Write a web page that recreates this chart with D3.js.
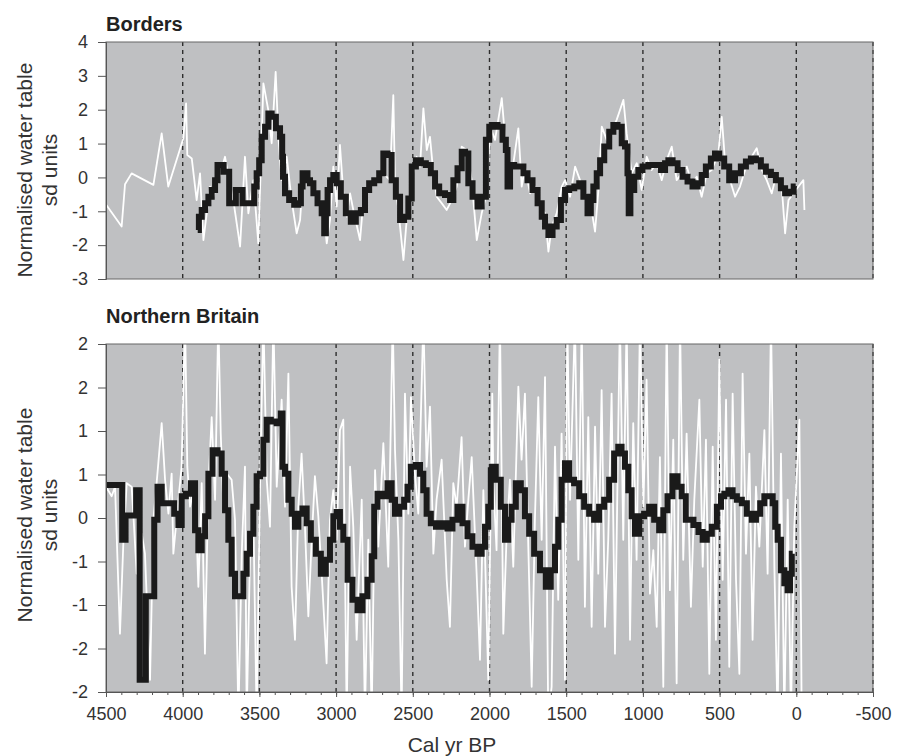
<!DOCTYPE html>
<html>
<head>
<meta charset="utf-8">
<script src="https://cdn.jsdelivr.net/npm/d3@7"></script>
<style>
  body { margin: 0; background: #fff; }
  svg text { font-family: "Liberation Sans", Arial, sans-serif; }
</style>
</head>
<body>
<svg id="chart" width="899" height="756"></svg>
<script>
// x axis (cal yr BP)
const xTicks = [4500, 4000, 3500, 3000, 2500, 2000, 1500, 1000, 500, 0, -500];
const gridYears = [4000, 3500, 3000, 2500, 2000, 1500, 1000, 500, 0, -500];

// y ticks, labels as printed on the original
const bordersTicks = [4, 3, 2, 1, 0, -1, -2, -3];
const bordersTickLabels = ["4", "3", "2", "1", "0", "-1", "-2", "-3"];
const britainTicks = [2, 1.5, 1, 0.5, 0, -0.5, -1, -1.5, -2];
const britainTickLabels = ["2", "2", "1", "1", "0", "-1", "-1", "-2", "-2"];

// Borders: raw water table [yr BP, sd]
const bordersRaw = [
  [4500,-0.8],[4398,-1.45],[4376,-0.2],[4333,0.12],[4191,-0.22],[4137,1.3],[4094,-0.27],
  [3996,1.15],[3978,2.19],[3970,0.66],[3941,0.56],[3909,-0.67],[3887,0.12],[3865,-1.85],
  [3822,-0.27],[3800,-0.57],[3768,-0.08],[3724,0.61],[3702,0.02],[3670,-0.67],[3626,-2.04],
  [3594,0.61],[3572,-1.06],[3539,-0.08],[3507,-1.95],[3474,2.78],[3442,1.99],[3420,1.01],
  [3394,3.12],[3376,1.2],[3355,-0.08],[3322,0.61],[3290,-0.67],[3257,-1.65],[3235,-1.26],
  [3213,0.17],[3181,-0.17],[3148,-0.27],[3116,-0.57],[3083,-0.96],[3061,-1.95],[3040,-1.26],
  [3018,0.32],[2996,-0.86],[2975,0.96],[2953,-0.47],[2931,-1.16],[2909,-0.47],[2888,-0.96],
  [2844,-1.85],[2822,-0.67],[2790,-0.27],[2757,-0.08],[2725,0.02],[2692,0.12],[2649,-0.08],
  [2627,2.43],[2616,-0.17],[2594,-0.96],[2561,-2.44],[2540,-1.26],[2507,-0.08],[2475,0.61],
  [2453,0.32],[2431,2.04],[2409,0.81],[2388,1.2],[2366,0.12],[2344,-0.57],[2312,-0.76],
  [2279,-0.96],[2246,-0.67],[2214,-0.27],[2181,0.91],[2149,0.81],[2116,-0.08],[2083,-1.85],
  [2051,-1.06],[2018,-0.47],[1996,1.5],[1964,1.11],[1920,2.34],[1899,1.2],[1866,-0.08],
  [1844,0.42],[1812,1.45],[1790,-0.27],[1768,0.32],[1736,-0.47],[1703,-0.27],[1670,-0.86],
  [1638,-1.06],[1616,-2.19],[1594,-1.45],[1562,-1.06],[1529,-0.27],[1507,-0.08],[1475,-0.57],
  [1442,0.32],[1410,-0.08],[1377,-0.47],[1345,-0.67],[1312,-1.6],[1290,-0.37],[1268,1.5],
  [1236,1.11],[1203,1.4],[1171,1.7],[1127,2.29],[1106,1.3],[1073,0.12],[1040,0.42],
  [1008,-0.37],[975,0.61],[943,0.22],[910,0.42],[877,-0.08],[845,0.51],[812,0.91],
  [780,-0.08],[747,0.12],[714,0.32],[682,-0.17],[649,0.02],[617,-0.57],[584,0.12],
  [551,0.22],[508,0.71],[486,1.79],[464,0.42],[432,-0.08],[399,-0.57],[367,-0.27],
  [334,0.22],[291,0.61],[258,0.86],[225,0.22],[193,-0.08],[160,-0.47],[128,0.12],
  [95,-0.27],[73,-1.65],[51,-0.67],[19,-0.47],[-14,-0.27],[-46,-0.08],[-53,-0.96]
];

// Borders: running mean
const bordersMean = [
  [3902,-1.55],[3887,-1.16],[3865,-0.96],[3843,-0.76],[3822,-0.57],[3800,-0.37],[3778,-0.08],
  [3768,0.37],[3735,0.37],[3731,0.17],[3702,0.17],[3692,-0.76],[3659,-0.76],[3648,-0.37],
  [3615,-0.37],[3605,-0.76],[3539,-0.76],[3529,-0.27],[3507,0.12],[3496,0.51],[3474,1.2],
  [3452,1.5],[3431,1.89],[3409,1.79],[3376,1.45],[3355,1.2],[3348,0.61],[3344,0.02],
  [3322,-0.47],[3290,-0.67],[3257,-0.81],[3235,-0.76],[3224,-0.27],[3213,0.12],[3192,0.12],
  [3181,-0.08],[3159,-0.17],[3137,-0.47],[3105,-0.76],[3083,-1.06],[3072,-1.65],[3061,-1.06],
  [3050,-0.37],[3029,-0.08],[3007,0.07],[2985,-0.17],[2953,-0.57],[2920,-1.06],[2888,-1.31],
  [2855,-1.06],[2822,-0.96],[2801,-0.37],[2768,-0.17],[2735,-0.08],[2703,0.12],[2681,0.71],
  [2649,0.66],[2627,-0.08],[2594,-0.57],[2572,-1.26],[2540,-1.16],[2518,-0.62],[2496,0.32],
  [2464,0.51],[2431,0.42],[2399,0.37],[2366,0.12],[2344,-0.27],[2312,-0.47],[2268,-0.52],
  [2246,-0.67],[2225,-0.08],[2192,0.27],[2170,0.76],[2149,0.71],[2127,-0.17],[2094,-0.57],
  [2062,-0.86],[2040,-0.57],[2007,1.11],[1996,1.5],[1964,1.55],[1931,1.5],[1899,1.11],
  [1888,0.81],[1877,-0.27],[1855,0.37],[1823,0.32],[1790,0.32],[1768,0.12],[1736,-0.08],
  [1703,-0.37],[1670,-0.76],[1649,-1.16],[1627,-1.45],[1605,-1.7],[1573,-1.45],[1551,-1.26],
  [1518,-0.67],[1497,-0.37],[1464,-0.32],[1431,-0.27],[1399,-0.17],[1377,-0.57],[1345,-1.06],
  [1334,-0.67],[1312,-0.27],[1290,0.12],[1268,0.51],[1236,0.91],[1203,1.35],[1182,1.55],
  [1149,1.5],[1127,1.01],[1106,0.91],[1095,0.12],[1090,-1.06],[1073,-0.37],[1040,0.02],
  [1019,0.22],[986,0.32],[943,0.37],[899,0.37],[866,0.22],[845,0.42],[823,0.51],[790,0.42],
  [758,0.22],[725,0.02],[693,-0.12],[660,-0.27],[627,-0.17],[606,0.07],[573,0.32],[541,0.56],
  [519,0.71],[486,0.56],[454,0.32],[421,-0.08],[378,0.12],[345,0.32],[312,0.47],[280,0.56],
  [247,0.51],[215,0.32],[182,0.17],[149,0.07],[117,-0.08],[84,-0.32],[62,-0.47],[30,-0.42],[4,-0.27]
];

// Northern Britain: raw composite (values beyond +-2 run off the panel)
const britainRaw = [
  [4500,0.36],[4463,0.25],[4441,0.36],[4409,-1.33],[4387,-0.29],[4365,0.4],[4333,0.36],
  [4322,0.05],[4300,-0.64],[4267,-0.18],[4246,-0.41],[4213,-1.86],[4191,-0.02],[4170,0.4],
  [4137,1.09],[4115,0.44],[4093,0.05],[4072,0.51],[4061,-0.41],[4028,0.21],[4007,0.59],
  [3985,2.3],[3970,0.59],[3952,0.13],[3920,0.4],[3898,-0.79],[3876,0.4],[3855,-1.56],
  [3833,0.36],[3811,1.16],[3789,0.21],[3768,2.3],[3752,0.97],[3735,0.13],[3713,0.51],
  [3681,0.44],[3659,-0.02],[3637,-2.3],[3615,-0.41],[3594,0.59],[3583,-2.3],[3561,-0.41],
  [3539,-0.02],[3518,-2.3],[3496,0.36],[3474,2.3],[3452,0.44],[3431,-0.1],[3409,2.3],
  [3387,0.36],[3355,1.36],[3333,0.13],[3311,1.66],[3290,-0.79],[3268,-1.4],[3246,0.13],
  [3225,0.74],[3203,-0.1],[3181,-1.13],[3159,-0.25],[3138,0.48],[3116,0.02],[3094,-0.64],
  [3062,-1.67],[3040,-0.02],[3018,0.32],[2996,-0.25],[2975,1.01],[2953,1.13],[2931,-2.3],
  [2909,0.59],[2888,-0.1],[2866,-1.4],[2833,0.21],[2812,-2.3],[2790,-0.25],[2768,-2.3],
  [2746,0.55],[2725,-0.33],[2692,0.86],[2660,-0.56],[2631,2.3],[2616,0.78],[2594,-0.25],
  [2573,-2.3],[2551,1.43],[2529,0.05],[2512,1.39],[2486,0.51],[2464,0.05],[2431,2.3],
  [2410,0.59],[2388,1.28],[2366,-0.41],[2345,0.21],[2312,0.67],[2279,-0.71],[2258,-1.25],
  [2236,0.4],[2214,0.13],[2182,0.93],[2160,-0.33],[2138,0.21],[2116,0.7],[2084,-0.64],
  [2062,-1.63],[2040,0.32],[2008,-1.86],[1982,1.43],[1975,0.4],[1954,-0.37],[1932,2.3],
  [1910,-1.33],[1888,-0.18],[1867,0.44],[1845,-0.56],[1812,1.51],[1791,0.67],[1769,1.43],
  [1747,-0.33],[1725,-1.94],[1704,-0.02],[1682,1.39],[1660,-0.25],[1638,1.62],[1617,-2.3],
  [1595,-1.94],[1573,0.82],[1552,-0.94],[1530,0.97],[1508,-1.86],[1493,2.3],[1475,0.21],
  [1443,2.3],[1421,-0.48],[1399,2.3],[1378,-1.02],[1356,1.16],[1334,-1.25],[1312,1.05],
  [1291,-0.64],[1269,1.47],[1247,-1.25],[1226,-0.25],[1204,1.43],[1182,-1.56],[1150,2.3],
  [1128,-0.25],[1106,2.3],[1084,-1.4],[1063,1.09],[1041,-0.48],[1019,2.3],[997,0.13],
  [976,1.59],[954,-0.87],[932,-0.37],[910,-1.25],[889,0.7],[867,-1.94],[845,2.3],
  [824,-0.83],[802,0.9],[780,-1.9],[758,2.3],[737,-0.48],[715,0.97],[687,-1.02],[665,0.21],
  [632,1.36],[610,-0.56],[589,0.9],[567,-1.79],[545,0.82],[524,-1.4],[502,1.82],[480,-0.71],
  [458,1.36],[437,-1.71],[415,1.43],[393,-0.71],[371,-1.79],[350,1.66],[328,-0.41],
  [306,0.74],[285,-1.4],[263,0.36],[241,-0.33],[208,1.01],[187,-0.64],[165,2.3],[143,-0.56],
  [122,-2.3],[100,0.74],[78,-2.3],[56,0.21],[35,-2.3],[13,-0.1],[-20,1.13],[-31,-1.21],[-35,-2.3]
];

// Northern Britain: running mean
const britainMean = [
  [4500,0.38],[4398,0.38],[4391,-0.25],[4376,-0.25],[4369,0.03],[4311,0.03],[4296,0.32],
  [4283,0.32],[4278,-1.86],[4246,-1.86],[4235,-0.9],[4191,-0.9],[4180,-0.02],[4148,0.36],
  [4126,0.17],[4072,0.17],[4039,0.05],[4017,-0.08],[3996,0.25],[3963,0.28],[3930,0.4],
  [3909,-0.14],[3887,-0.37],[3865,-0.21],[3843,0.02],[3822,0.51],[3789,0.78],[3757,0.74],
  [3735,0.51],[3713,0.09],[3692,-0.25],[3670,-0.64],[3648,-0.9],[3615,-0.9],[3594,-0.64],
  [3572,-0.41],[3550,-0.18],[3529,0.13],[3507,0.48],[3485,0.51],[3463,0.9],[3442,1.13],
  [3409,1.11],[3366,1.09],[3355,1.2],[3344,0.59],[3322,0.51],[3300,0.21],[3279,0.05],
  [3257,-0.1],[3235,0.05],[3203,0.11],[3181,-0.06],[3148,-0.25],[3116,-0.41],[3083,-0.64],
  [3051,-0.48],[3029,-0.25],[3007,0.02],[2986,0.07],[2964,-0.1],[2942,-0.25],[2909,-0.71],
  [2877,-0.94],[2844,-1.06],[2812,-0.9],[2779,-0.71],[2757,-0.44],[2746,0.13],[2714,0.28],
  [2681,0.25],[2649,0.4],[2627,0.21],[2605,0.05],[2573,0.13],[2540,0.21],[2529,0.36],
  [2497,0.59],[2464,0.61],[2442,0.51],[2421,0.32],[2399,0.05],[2366,-0.06],[2334,-0.1],
  [2290,-0.06],[2258,-0.12],[2225,-0.02],[2192,0.13],[2160,-0.06],[2127,-0.21],[2095,-0.33],
  [2062,-0.41],[2040,-0.33],[2019,-0.1],[1997,0.13],[1986,0.55],[1975,0.59],[1943,0.44],
  [1910,0.13],[1888,-0.25],[1867,-0.02],[1845,0.13],[1812,0.4],[1780,0.32],[1758,0.02],
  [1725,-0.18],[1693,-0.41],[1649,-0.6],[1617,-0.79],[1584,-0.6],[1562,-0.33],[1541,-0.02],
  [1519,0.44],[1497,0.63],[1465,0.44],[1432,0.4],[1399,0.25],[1367,0.13],[1334,0.05],
  [1302,-0.02],[1269,0.13],[1236,0.21],[1204,0.44],[1171,0.74],[1150,0.82],[1128,0.74],
  [1106,0.59],[1084,0.32],[1063,0.02],[1041,-0.18],[1008,0.02],[976,0.05],[943,0.13],
  [910,-0.02],[878,-0.14],[856,0.09],[824,0.25],[791,0.48],[758,0.36],[737,0.25],[704,-0.02],
  [687,-0.02],[654,-0.08],[621,-0.16],[600,-0.25],[567,-0.18],[534,-0.1],[502,0.13],
  [480,0.25],[458,0.28],[426,0.32],[404,0.25],[371,0.21],[339,0.17],[306,0.05],[274,-0.02],
  [252,0.05],[219,0.17],[198,0.25],[165,0.25],[143,0.17],[132,-0.1],[111,-0.25],[89,-0.6],
  [67,-0.75],[46,-0.83],[35,-0.64],[24,-0.41]
];

const svg = d3.select("#chart");
const left = 106, right = 873;
const panelFill = "#bfc0c2";
const tickColor = "#333";

const x = d3.scaleLinear().domain([4500, -500]).range([left, right]);

function drawPanel(cfg) {
  const y = d3.scaleLinear().domain(cfg.domain).range([cfg.bottom, cfg.top]);
  const g = svg.append("g");

  g.append("clipPath").attr("id", cfg.id + "-clip")
    .append("rect")
    .attr("x", left).attr("y", cfg.top)
    .attr("width", right - left).attr("height", cfg.bottom - cfg.top);

  g.append("rect")
    .attr("x", left).attr("y", cfg.top)
    .attr("width", right - left).attr("height", cfg.bottom - cfg.top)
    .attr("fill", panelFill);

  // dashed 500-yr guides
  g.selectAll(".grid")
    .data(gridYears)
    .enter().append("line")
    .attr("x1", d => x(d)).attr("x2", d => x(d))
    .attr("y1", cfg.top).attr("y2", cfg.bottom)
    .attr("stroke", "#2e2e2e")
    .attr("stroke-width", 1.4)
    .attr("stroke-dasharray", "4,4");

  const rawLine = d3.line().x(d => x(d[0])).y(d => y(d[1]));
  const meanLine = d3.line().x(d => x(d[0])).y(d => y(d[1])).curve(d3.curveStep);
  const plot = g.append("g").attr("clip-path", `url(#${cfg.id}-clip)`);

  plot.append("path")
    .datum(cfg.raw)
    .attr("d", rawLine)
    .attr("fill", "none")
    .attr("stroke", "#ffffff")
    .attr("stroke-width", 1.8)
    .attr("stroke-linejoin", "round");

  plot.append("path")
    .datum(cfg.mean)
    .attr("d", meanLine)
    .attr("fill", "none")
    .attr("stroke", "#1a1a1a")
    .attr("stroke-width", 6)
    .attr("stroke-linejoin", "miter");

  // frame
  g.append("rect")
    .attr("x", left).attr("y", cfg.top)
    .attr("width", right - left).attr("height", cfg.bottom - cfg.top)
    .attr("fill", "none")
    .attr("stroke", "#666")
    .attr("stroke-width", 1);

  const yAxis = g.append("g")
    .attr("transform", `translate(${left},0)`)
    .call(d3.axisLeft(y)
      .tickValues(cfg.ticks)
      .tickFormat((d, i) => cfg.tickLabels[i])
      .tickSize(8)
      .tickPadding(10));
  yAxis.select(".domain").attr("stroke", "#555");
  yAxis.selectAll(".tick line").attr("stroke", "#555");
  yAxis.selectAll(".tick text")
    .attr("font-size", 18)
    .attr("fill", tickColor)
    .style("font-family", "Liberation Sans, Arial, sans-serif");

  g.append("text")
    .attr("x", left).attr("y", cfg.titleY)
    .attr("font-size", 20)
    .attr("font-weight", "bold")
    .attr("fill", "#222")
    .text(cfg.title);

  const label = g.append("text")
    .attr("transform", `translate(0,${cfg.labelY}) rotate(-90)`)
    .attr("text-anchor", "middle")
    .attr("font-size", 21)
    .attr("fill", tickColor);
  label.append("tspan").attr("x", 0).attr("y", 32).text("Normalised water table");
  label.append("tspan").attr("x", 0).attr("y", 57).text("sd units");

  return { g, y };
}

drawPanel({
  id: "borders", top: 42, bottom: 279, domain: [-3, 4],
  ticks: bordersTicks, tickLabels: bordersTickLabels,
  raw: bordersRaw, mean: bordersMean,
  title: "Borders", titleY: 31, labelY: 170
});

const lower = drawPanel({
  id: "britain", top: 344, bottom: 692, domain: [-2, 2],
  ticks: britainTicks, tickLabels: britainTickLabels,
  raw: britainRaw, mean: britainMean,
  title: "Northern Britain", titleY: 323, labelY: 515
});

// minor ticks every 100 yr
const minorTicks = d3.range(4500, -501, -100);
const minorAxis = lower.g.append("g")
  .attr("transform", "translate(0,692)")
  .call(d3.axisBottom(x).tickValues(minorTicks).tickSize(3).tickFormat(""));
minorAxis.select(".domain").remove();
minorAxis.selectAll(".tick line").attr("stroke", "#555");

const xAxis = lower.g.append("g")
  .attr("transform", "translate(0,692)")
  .call(d3.axisBottom(x).tickValues(xTicks).tickSize(5).tickPadding(10)
    .tickFormat(d => String(d)));
xAxis.select(".domain").attr("stroke", "#555");
xAxis.selectAll(".tick line").attr("stroke", "#555");
xAxis.selectAll(".tick text")
  .attr("font-size", 18)
  .attr("fill", tickColor)
  .style("font-family", "Liberation Sans, Arial, sans-serif");

svg.append("text")
  .attr("x", 452).attr("y", 752)
  .attr("text-anchor", "middle")
  .attr("font-size", 21)
  .attr("fill", tickColor)
  .text("Cal yr BP");
</script>
</body>
</html>
